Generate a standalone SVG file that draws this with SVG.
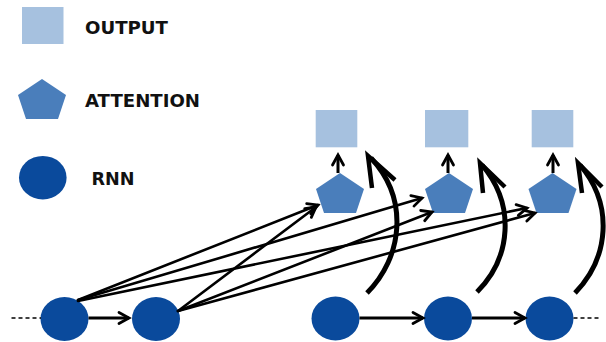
<svg xmlns="http://www.w3.org/2000/svg" width="606" height="342" viewBox="0 0 606 342">
  <style>
    .out { fill: #A6C1DF; }
    .att { fill: #4A7EBB; }
    .rnn { fill: #0A4A9C; }
    .lbl { font-family: "DejaVu Sans", "Liberation Sans", sans-serif; font-weight: bold; font-size: 17px; fill: #111; }
    .link { stroke: #000; stroke-width: 2.6; fill: none; stroke-linecap: round; }
    .step { stroke: #000; stroke-width: 3; fill: none; }
    .loop { stroke: #000; stroke-width: 5; fill: none; stroke-linecap: butt; }
    .loophead { stroke: #000; stroke-width: 4.5; fill: none; stroke-linejoin: miter; stroke-miterlimit: 10; }
    .dash { stroke: #000; stroke-width: 1.5; stroke-dasharray: 4 3; fill: none; }
  </style>
  <defs>
    <marker id="chev" viewBox="-1 -1 13 13" refX="10" refY="5.5" markerWidth="13" markerHeight="13" markerUnits="userSpaceOnUse" orient="auto" overflow="visible">
      <path d="M0,0 L10,5.5 L0,11" fill="none" stroke="#000" stroke-width="2.8" stroke-linecap="round" stroke-linejoin="miter"/>
    </marker>
    <polygon id="penta" points="0,-20 24,-4 16,20 -16,20 -24,-4"/>
  </defs>

  <!-- legend -->
  <g id="legend-output">
    <rect class="out" x="22" y="7" width="41.5" height="37"/>
    <text class="lbl" x="85" y="34" textLength="83" lengthAdjust="spacingAndGlyphs">OUTPUT</text>
  </g>
  <g id="legend-attention">
    <use href="#penta" class="att" x="42" y="99"/>
    <text class="lbl" x="85" y="106.5" textLength="115" lengthAdjust="spacingAndGlyphs">ATTENTION</text>
  </g>
  <g id="legend-rnn">
    <ellipse class="rnn" cx="42.8" cy="177.7" rx="23.8" ry="21.8"/>
    <text class="lbl" x="91.5" y="185" textLength="43" lengthAdjust="spacingAndGlyphs">RNN</text>
  </g>

  <!-- output nodes -->
  <g id="out1"><rect class="out" x="315.7" y="110" width="41.6" height="37.3"/></g>
  <g id="out2"><rect class="out" x="425" y="110" width="43.3" height="37.3"/></g>
  <g id="out3"><rect class="out" x="531.7" y="110" width="41.6" height="37.3"/></g>

  <!-- attention nodes -->
  <g id="att1"><use href="#penta" class="att" x="340" y="193"/></g>
  <g id="att2"><use href="#penta" class="att" x="449" y="193"/></g>
  <g id="att3"><use href="#penta" class="att" x="552.5" y="193"/></g>

  <!-- rnn nodes -->
  <g id="rnn1"><ellipse class="rnn" cx="64.5" cy="319" rx="24" ry="22"/></g>
  <g id="rnn2"><ellipse class="rnn" cx="156" cy="319" rx="24" ry="22"/></g>
  <g id="rnn3"><ellipse class="rnn" cx="335.5" cy="318.5" rx="24" ry="22"/></g>
  <g id="rnn4"><ellipse class="rnn" cx="448" cy="318.5" rx="24" ry="22"/></g>
  <g id="rnn5"><ellipse class="rnn" cx="549.5" cy="318.5" rx="24" ry="22"/></g>

  <g id="connectors">
    <!-- sequence links -->
    <line class="dash" x1="11.5" y1="318" x2="41" y2="318"/>
    <line class="dash" x1="573.5" y1="318" x2="599" y2="318"/>
    <line class="step" x1="88.5" y1="318" x2="129" y2="318" marker-end="url(#chev)"/>
    <line class="step" x1="359.5" y1="318" x2="423" y2="318" marker-end="url(#chev)"/>
    <line class="step" x1="472" y1="318" x2="525" y2="318" marker-end="url(#chev)"/>

    <!-- encoder states to attention -->
    <line class="link" x1="78" y1="300" x2="318" y2="205" marker-end="url(#chev)"/>
    <line class="link" x1="78" y1="300" x2="422" y2="198" marker-end="url(#chev)"/>
    <line class="link" x1="78" y1="301" x2="527" y2="208" marker-end="url(#chev)"/>
    <line class="link" x1="178" y1="311" x2="316" y2="207" marker-end="url(#chev)"/>
    <line class="link" x1="178" y1="311" x2="432" y2="212" marker-end="url(#chev)"/>
    <line class="link" x1="178" y1="311" x2="535" y2="213" marker-end="url(#chev)"/>

    <!-- attention to output -->
    <line class="step" x1="338" y1="173" x2="338" y2="155" marker-end="url(#chev)"/>
    <line class="step" x1="448" y1="173" x2="448" y2="155" marker-end="url(#chev)"/>
    <line class="step" x1="553" y1="173" x2="553" y2="155" marker-end="url(#chev)"/>

    <!-- decoder states looping up -->
    <path class="loop" d="M367,293 C402,258 410,200 371,158"/>
    <polyline class="loophead" points="372,188 368,156 395,180"/>
    <path class="loop" d="M477,292 C511,258 516,205 482,165"/>
    <polyline class="loophead" points="483,193 480,163 505,187"/>
    <path class="loop" d="M575,293 C609,258 614,205 580,165"/>
    <polyline class="loophead" points="582,193 578,163 602,187"/>
  </g>
</svg>
